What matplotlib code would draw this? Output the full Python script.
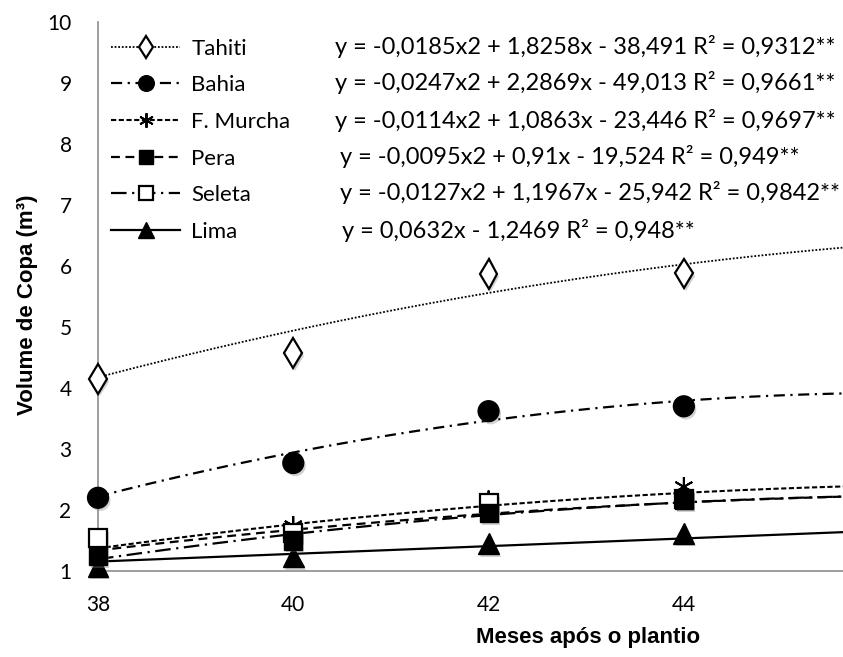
import matplotlib
matplotlib.use('Agg')
import matplotlib.pyplot as plt
import matplotlib.patheffects as pe
import numpy as np

# meses após o plantio
meses = [38, 40, 42, 44]

# volume de copa observado (m3)
tahiti = [4.15, 4.57, 5.87, 5.88]
bahia = [2.20, 2.77, 3.62, 3.70]
f_murcha = [1.50, 1.74, 2.16, 2.38]
pera = [1.25, 1.50, 1.95, 2.16]
seleta = [1.54, 1.62, 2.11, 2.18]
lima = [1.08, 1.23, 1.45, 1.62]

coef_tahiti = [-0.0185, 1.8258, -38.491]
coef_bahia = [-0.0247, 2.2869, -49.013]
coef_f_murcha = [-0.0114, 1.0863, -23.446]
coef_pera = [-0.0095, 0.91, -19.524]
coef_seleta = [-0.0127, 1.1967, -25.942]
coef_lima = [0.0632, -1.2469]

nomes = ['Tahiti', 'Bahia', 'F. Murcha', 'Pera', 'Seleta', 'Lima']
equacoes = [
    'y = -0,0185x2 + 1,8258x - 38,491 R² = 0,9312**',
    'y = -0,0247x2 + 2,2869x - 49,013 R² = 0,9661**',
    'y = -0,0114x2 + 1,0863x - 23,446 R² = 0,9697**',
    'y = -0,0095x2 + 0,91x - 19,524 R² = 0,949**',
    'y = -0,0127x2 + 1,1967x - 25,942 R² = 0,9842**',
    'y = 0,0632x - 1,2469 R² = 0,948**',
]

W, H = 843, 657
fig = plt.figure(figsize=(W / 100, H / 100), dpi=100)
ax = fig.add_axes([98 / W, 1 - 571 / H, 1 - 98 / W, (571 - 22) / H])

x_max = 45.63
xs = np.linspace(38, x_max, 200)

# (valores, coeficientes, marcador, estilo da linha, espessura, zorder do marcador)
series = [
    (tahiti, coef_tahiti, dict(marker='d', ms=15, mfc='white', mec='black', mew=1.6), (0, (1, 1)), 1.3, 3),
    (bahia, coef_bahia, dict(marker='o', ms=15, mfc='black', mec='black'), (0, (5, 2.5, 1, 2.5)), 1.6, 3),
    (f_murcha, coef_f_murcha, dict(marker=(6, 2, 0), ms=14, mfc='black', mec='black', mew=1.4), (0, (2.5, 1.2)), 1.5, 3),
    (pera, coef_pera, dict(marker='s', ms=13, mfc='black', mec='black'), (0, (4, 2.5)), 1.6, 4),
    (seleta, coef_seleta, dict(marker='s', ms=13, mfc='white', mec='black', mew=1.6), (0, (7, 2.5, 1, 2.5)), 1.6, 3),
    (lima, coef_lima, dict(marker='^', ms=15, mfc='black', mec='black'), '-', 1.6, 3),
]

sombra = [pe.SimplePatchShadow(offset=(1.5, -2), alpha=0.35, shadow_rgbFace='gray'), pe.Normal()]

handles = []
for vals, coef, mk, ls, lw, zo in series:
    ax.plot(xs, np.polyval(coef, xs), color='black', ls=ls, lw=lw, zorder=2)
    ax.plot(meses, vals, ls='none', zorder=zo, clip_on=False, path_effects=sombra, **mk)
    h, = ax.plot([], [], color='black', ls=ls, lw=lw, **dict(mk, ms=mk['ms'] * 0.75))
    handles.append(h)

ax.set_xlim(38, x_max)
ax.set_ylim(1, 10)
ax.set_xticks([38, 40, 42, 44])
ax.set_yticks(range(1, 11))
ax.tick_params(length=0, labelsize=15)
ax.tick_params(axis='x', pad=17)
ax.tick_params(axis='y', pad=19)
for lab in ax.get_xticklabels() + ax.get_yticklabels():
    lab.set_fontfamily('Lato')

for s in ['top', 'right']:
    ax.spines[s].set_visible(False)
for s in ['left', 'bottom']:
    ax.spines[s].set_color('#8c8c8c')
    ax.spines[s].set_linewidth(1.2)

ax.set_xlabel('Meses após o plantio', fontsize=16, fontweight='bold', fontfamily='Liberation Sans')
ax.xaxis.set_label_coords((588 - 98) / (W - 98), -(627 - 571) / (571 - 22))
ax.set_ylabel('Volume de Copa (m³)', fontsize=16, fontweight='bold', fontfamily='Liberation Sans')
ax.yaxis.set_label_coords(-(98 - 38) / (W - 98), (571 - 305) / (571 - 22))

leg = ax.legend(handles, nomes, loc='upper left', bbox_to_anchor=(0.006, 0.986),
                frameon=False, handlelength=3.1, labelspacing=0.75,
                handletextpad=0.5, borderaxespad=0.0, prop={'family': 'Lato', 'size': 16})

eq_y = [47, 83, 120, 157, 193, 230]
eq_x = [335, 335, 335, 340, 340, 342]
for txt, px, py in zip(equacoes, eq_x, eq_y):
    fig.text(px / W, 1 - py / H, txt, fontsize=17, fontfamily='Lato', va='center', ha='left')

fig.savefig('out.png', dpi=100)
